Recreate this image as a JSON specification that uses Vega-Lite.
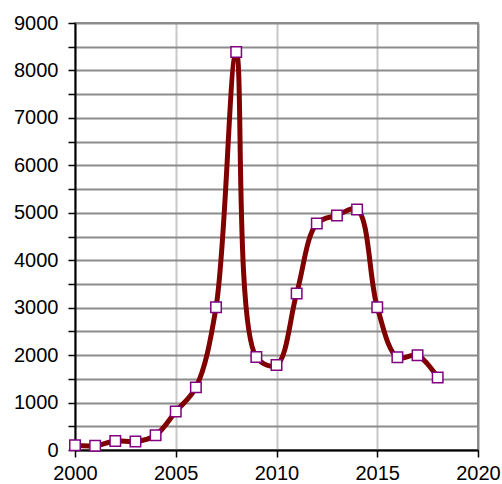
{
  "$schema": "https://vega.github.io/schema/vega-lite/v6.json",
  "autosize": "none",
  "width": 403,
  "height": 427,
  "padding": {"left": 75, "top": 23, "right": 24, "bottom": 34},
  "background": "white",
  "config": {
    "view": {"stroke": "#8c8c8c", "strokeWidth": 2},
    "axis": {"labelFont": "Liberation Sans", "labelFontSize": 20, "labelColor": "#000", "domainColor": "#000", "domainWidth": 2, "tickColor": "#000", "tickWidth": 1.5, "tickSize": 7, "title": null}
  },
  "data": {"values": [
    {"year": 2000, "value": 100},
    {"year": 2001, "value": 90},
    {"year": 2002, "value": 190},
    {"year": 2003, "value": 180},
    {"year": 2004, "value": 310},
    {"year": 2005, "value": 810},
    {"year": 2006, "value": 1320},
    {"year": 2007, "value": 3010},
    {"year": 2008, "value": 8390},
    {"year": 2009, "value": 1960},
    {"year": 2010, "value": 1790},
    {"year": 2011, "value": 3300},
    {"year": 2012, "value": 4775},
    {"year": 2013, "value": 4945},
    {"year": 2014, "value": 5070},
    {"year": 2015, "value": 3010},
    {"year": 2016, "value": 1955},
    {"year": 2017, "value": 1995},
    {"year": 2018, "value": 1530}
  ]},
  "encoding": {
    "x": {"field": "year", "type": "quantitative", "scale": {"domain": [2000, 2020], "nice": false, "zero": false},
      "axis": {"values": [2000, 2005, 2010, 2015, 2020], "format": "d", "labelPadding": 6, "grid": true, "gridWidth": 2,
        "gridColor": {"condition": {"test": "datum.value == 2020", "value": "#8c8c8c"}, "value": "#c8c8c8"}, "labelFlush": false}},
    "y": {"field": "value", "type": "quantitative", "scale": {"domain": [0, 9000], "nice": false},
      "axis": {"values": [0, 500, 1000, 1500, 2000, 2500, 3000, 3500, 4000, 4500, 5000, 5500, 6000, 6500, 7000, 7500, 8000, 8500, 9000],
        "labelExpr": "datum.value % 1000 == 0 ? datum.value : ''", "labelPadding": 10, "grid": true, "gridColor": "#8c8c8c", "gridWidth": 2, "labelFlush": false}}
  },
  "layer": [
    {"mark": {"type": "line", "interpolate": "catmull-rom", "color": "#800000", "strokeWidth": 5}},
    {"mark": {"type": "point", "shape": "square", "filled": true, "fill": "white", "stroke": "#800080", "strokeWidth": 1.5, "size": 110, "opacity": 1}}
  ]
}
